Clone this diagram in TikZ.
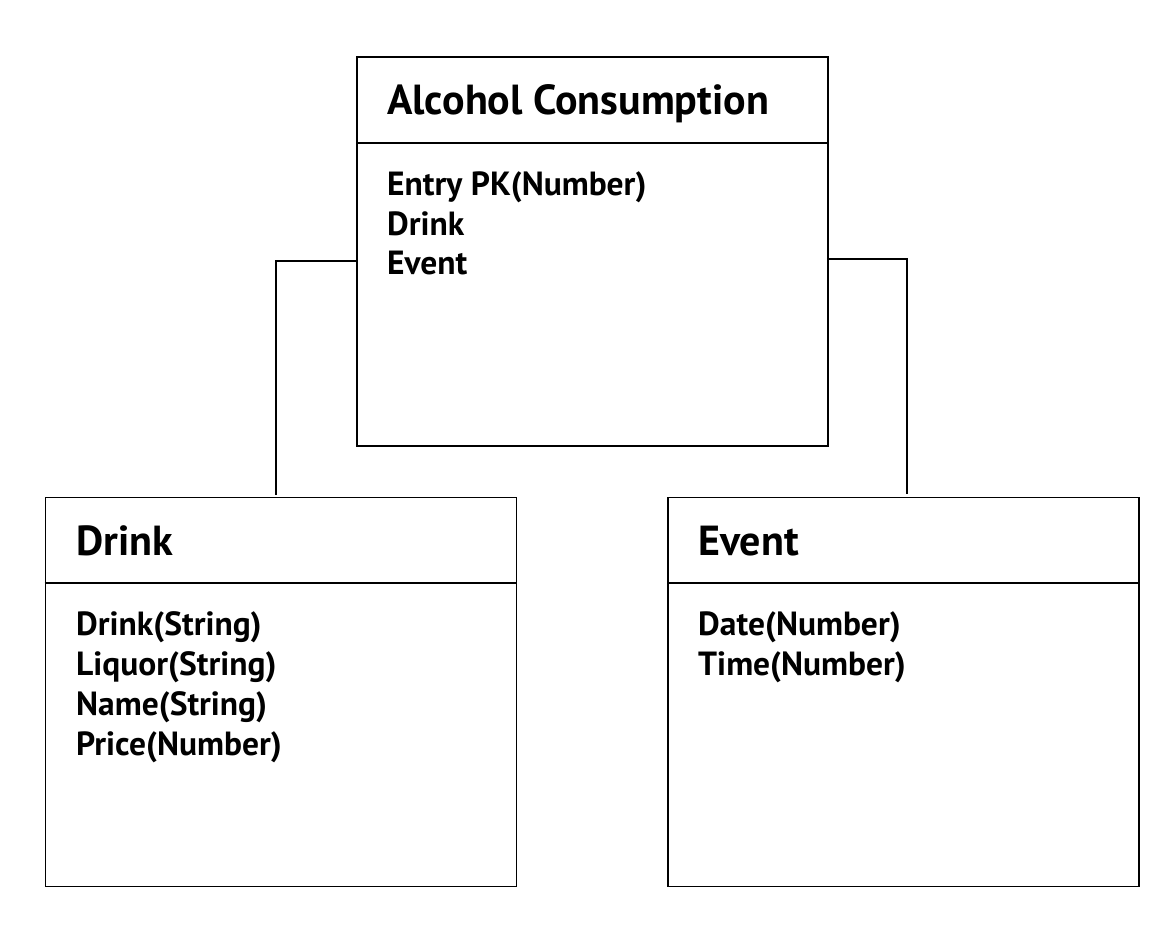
\documentclass[tikz,border=0pt]{standalone}
\usepackage{fontspec}
\setmainfont{PT Sans}
\usetikzlibrary{positioning}

\tikzset{
  tabela/.style={draw, line width=1.8pt, minimum width=471pt, minimum height=389pt, inner sep=0pt},
  titulo/.style={anchor=base west, inner sep=0pt, font=\fontsize{42}{44}\selectfont\bfseries},
  campo/.style={anchor=base west, inner sep=0pt, font=\fontsize{33.5}{40}\selectfont\bfseries},
  ligacao/.style={line width=1.3pt}
}

\begin{document}
\begin{tikzpicture}[x=1pt,y=-1pt]
\useasboundingbox (0,0) rectangle (1174,934);

% Tabela principal
\node[tabela] (consumo) at (592.5,251.5) {};
\draw[line width=1.8pt] (consumo.west |- 0,143) -- (consumo.east |- 0,143);
\node[titulo] (consumo-t) at (387,114) {Alcohol Consumption};
\node[campo] (consumo-1) at (387,195) {Entry PK(Number)};
\node[campo] (consumo-2) at (387,235) {Drink};
\node[campo] (consumo-3) at (387,274) {Event};

% Tabela Drink
\node[tabela] (drink) at (281,692) {};
\draw[line width=1.8pt] (drink.west |- 0,583) -- (drink.east |- 0,583);
\node[titulo] (drink-t) at (76,555) {Drink};
\node[campo] (drink-1) at (76,635) {Drink(String)};
\node[campo] (drink-2) at (76,675) {Liquor(String)};
\node[campo] (drink-3) at (76,715) {Name(String)};
\node[campo] (drink-4) at (76,755) {Price(Number)};

% Tabela Event
\node[tabela] (event) at (903.5,692) {};
\draw[line width=1.8pt] (event.west |- 0,583) -- (event.east |- 0,583);
\node[titulo] (event-t) at (698,555) {Event};
\node[campo] (event-1) at (698,635) {Date(Number)};
\node[campo] (event-2) at (698,675) {Time(Number)};

% Ligacoes
\draw[ligacao] (consumo.west |- 0,261) -| ([xshift=-5pt,yshift=2pt]drink.north);
\draw[ligacao] ([xshift=-2pt]consumo.east |- 0,259) -| ([xshift=3.5pt,yshift=3pt]event.north);

\end{tikzpicture}
\end{document}
